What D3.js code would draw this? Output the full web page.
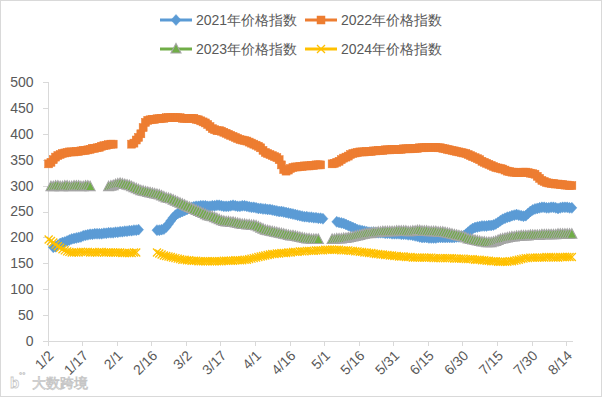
<!DOCTYPE html>
<html><head><meta charset="utf-8">
<script src="https://cdn.jsdelivr.net/npm/d3@7/dist/d3.min.js"></script>
<style>
html,body{margin:0;padding:0;background:#fff;}
svg{display:block;}
text{font-family:"Liberation Sans",Arial,sans-serif;}
</style></head>
<body>
<svg id="chart" width="602" height="397"></svg>
<script>
// Tick labels (x axis shows every 15th day, starting 1/2, leap-year calendar)
const tickLabels = ["1/2","1/17","2/1","2/16","3/2","3/17","4/1","4/16","5/1","5/16","5/31","6/15","6/30","7/15","7/30","8/14"];
const yTicks = [0,50,100,150,200,250,300,350,400,450,500];
const seriesNames = ["2021年价格指数","2022年价格指数","2023年价格指数","2024年价格指数"];
const N = null;
// daily values, index 0 = 1/2 ... index 227 = 8/16 ; null = no data (holidays)
const v2021 = [
N,N,181,182,185,188,190,191,193,195,
197,198,199,200,201,203,204,205,206,206,
207,207,207,207,208,208,209,209,209,210,
210,211,211,212,212,213,213,214,214,215,
N,N,N,N,N,N,N,214,214,215,
216,220,226,232,238,243,246,248,250,252,
254,256,258,259,260,260,261,261,261,260,
260,261,261,262,262,261,260,260,260,261,
262,261,260,260,261,261,260,259,258,258,
257,256,256,255,255,254,254,253,252,251,
250,250,249,248,247,246,245,244,243,242,
241,240,240,239,239,238,238,237,237,236,
N,N,N,N,N,230,229,228,227,225,
223,221,219,217,215,214,213,212,211,210,
210,210,209,209,209,209,208,208,208,207,
207,207,207,206,206,206,205,205,204,203,
202,201,200,200,200,199,199,199,199,200,
200,200,200,200,200,200,200,201,201,202,
203,206,210,214,217,219,220,221,222,222,
222,223,223,224,226,229,232,235,237,239,
240,242,243,244,243,242,241,242,246,250,
253,255,256,257,258,258,257,257,258,258,
257,256,257,258,258,258,257,257];
const v2022 = [
342,345,350,355,358,360,362,363,364,365,
365,365,366,366,367,368,368,369,370,372,
372,373,374,376,377,378,379,380,380,N,
N,N,N,N,N,N,380,382,388,393,
400,412,422,426,427,428,428,429,429,430,
430,431,431,431,431,431,431,431,430,430,
430,430,430,430,428,427,425,423,421,418,
414,410,408,406,406,405,403,401,399,397,
395,393,391,389,388,387,386,384,382,380,
378,376,373,368,364,362,360,358,356,354,
350,340,331,328,330,333,335,336,336,337,
337,338,338,338,339,339,340,340,340,N,
N,N,N,342,343,345,347,350,353,355,
357,360,362,363,364,365,365,365,366,366,
366,367,367,368,368,368,369,369,369,370,
370,370,370,370,371,371,371,371,372,372,
372,373,373,373,374,374,374,374,374,373,
373,372,371,370,369,368,367,366,365,364,
363,362,360,358,356,354,352,350,347,345,
343,341,339,337,335,334,333,332,330,328,
327,326,326,325,325,325,326,326,325,324,
323,322,318,314,310,308,306,305,304,304,
303,303,302,302,301,301,300,300];
const v2023 = [
N,298,298,299,299,298,298,299,299,298,
298,299,299,299,298,298,299,299,298,N,
N,N,N,N,N,N,298,299,300,302,
303,304,303,302,301,300,298,296,294,292,
290,289,288,287,286,285,284,283,282,280,
278,276,275,274,272,270,268,266,264,262,
260,258,256,254,252,250,248,246,244,242,
241,240,238,236,234,232,231,230,230,229,
229,228,227,226,225,225,224,224,223,223,
222,220,218,216,214,213,212,211,210,209,
208,207,206,205,204,203,203,202,201,200,
199,198,197,197,196,196,196,196,N,N,
N,N,N,196,196,197,197,197,198,198,
199,200,201,202,203,204,205,206,207,207,
208,209,209,210,210,211,211,211,211,211,
211,212,212,212,212,212,211,211,212,212,
213,213,212,212,212,211,211,211,211,210,
210,210,209,208,207,206,205,204,203,202,
201,199,197,196,195,194,193,192,191,191,
190,190,190,191,192,194,196,197,198,199,
200,201,201,202,202,203,203,203,203,204,
204,204,204,204,205,205,205,205,205,205,
205,206,206,206,206,206,206,206];
const v2024 = [
196,193,190,186,183,180,177,175,173,172,
171,171,171,171,172,172,172,172,171,171,
171,171,172,172,171,171,171,171,171,171,
171,171,170,170,170,170,170,171,171,N,
N,N,N,N,N,N,N,171,169,167,
165,164,163,162,161,160,159,158,157,157,
156,156,155,155,155,154,154,154,154,154,
154,154,154,154,154,154,155,155,155,155,
155,156,156,156,156,157,157,158,159,160,
161,162,163,164,165,166,167,168,168,169,
169,170,170,170,171,171,172,172,172,173,
173,173,174,174,174,174,175,175,175,175,
176,176,176,176,176,176,176,175,175,175,
175,174,174,173,173,172,172,171,171,170,
170,169,168,168,167,167,166,166,165,165,
164,164,163,163,163,162,162,162,161,161,
161,161,161,161,161,161,161,160,160,160,
160,160,160,160,160,160,159,159,159,159,
159,158,158,158,158,157,157,157,156,156,
155,155,154,154,154,153,153,153,153,153,
154,154,155,156,157,158,159,160,160,161,
161,161,161,161,161,161,162,162,162,161,
161,161,162,162,162,162,162,162];

const colors = ["#5B9BD5","#ED7D31","#70AD47","#FFC000"];
const allSeries = [v2021, v2022, v2023, v2024];
const nDays = 228;

const svg = d3.select("#chart");
svg.append("rect").attr("x",0.5).attr("y",0.5).attr("width",601).attr("height",396)
  .attr("fill","#fff").attr("stroke","#D9D9D9");

const x = d3.scaleLinear().domain([0, nDays]).range([47.5, 573]);
const y = d3.scaleLinear().domain([0, 500]).range([341, 82]);

// axes
const gx = svg.append("g").attr("transform","translate(0,341)")
  .call(d3.axisBottom(x).tickValues(tickLabels.map((d,i)=>i*15)).tickSize(5)
        .tickFormat((d,i)=>tickLabels[i]));
gx.select(".domain").attr("stroke","#D9D9D9").attr("d","M47.5,0.5H573");
gx.selectAll(".tick line").attr("stroke","#D9D9D9");
gx.selectAll(".tick text").attr("fill","#595959").attr("font-size",14)
  .attr("text-anchor","end").attr("dy","0.35em").attr("y",0)
  .attr("transform","translate(3,12) rotate(-45)");

const gy = svg.append("g").attr("transform","translate(47.5,0)")
  .call(d3.axisLeft(y).tickValues(yTicks).tickSize(5).tickPadding(9));
gy.select(".domain").attr("stroke","#D9D9D9").attr("d","M0.5,82V341.5");
gy.selectAll(".tick line").attr("stroke","#D9D9D9");
gy.selectAll(".tick text").attr("fill","#595959").attr("font-size",14);
svg.selectAll(".domain, .tick line").attr("shape-rendering","crispEdges");

// marker drawers
const markers = [
  g => g.append("path").attr("d","M0,-5.5L5,0L0,5.5L-5,0Z").attr("fill",colors[0]).attr("stroke",colors[0]).attr("stroke-width",0.5),
  g => g.append("rect").attr("x",-4).attr("y",-4).attr("width",8).attr("height",8).attr("fill",colors[1]).attr("stroke",colors[1]).attr("stroke-width",0.5),
  g => g.append("path").attr("d","M0,-5.5L5,4L-5,4Z").attr("fill",colors[2]).attr("stroke","#A5A5A5").attr("stroke-width",1.1),
  g => g.append("path").attr("d","M-4,-4L4,4M-4,4L4,-4").attr("fill","none").attr("stroke",colors[3]).attr("stroke-width",1.3)
];

const line = d3.line().defined(d=>d.v!==null).x(d=>x(d.i+0.5)).y(d=>y(d.v));

allSeries.forEach((vals, si) => {
  const data = vals.map((v,i)=>({i, v}));
  const g = svg.append("g");
  g.append("path").datum(data).attr("d", line).attr("fill","none")
    .attr("stroke", si===2 ? "#A5A5A5" : colors[si]).attr("stroke-width",2.25);
  data.filter(d=>d.v!==null).forEach(d => {
    const m = g.append("g").attr("transform",`translate(${x(d.i+0.5)},${y(d.v)})`);
    markers[si](m);
  });
});

// legend
const legendPos = [[160,20],[305,20],[160,49],[305,49]];
seriesNames.forEach((name, i) => {
  const [lx, ly] = legendPos[i];
  const g = svg.append("g").attr("transform",`translate(${lx},${ly})`);
  g.append("line").attr("x1",0).attr("x2",32).attr("y1",0).attr("y2",0)
    .attr("stroke",colors[i]).attr("stroke-width",3);
  markers[i](g.append("g").attr("transform","translate(16,0)"));
  g.append("text").attr("x",36).attr("y",0).attr("dy","0.35em")
    .attr("fill","#595959").attr("font-size",14).text(name);
});

// watermark
const wm = svg.append("g").attr("opacity",0.55);
wm.append("text").attr("x",10).attr("y",388).attr("font-size",15).attr("font-weight","bold")
  .attr("fill","#fff").attr("stroke","#999").attr("stroke-width",0.8).text("b");
wm.append("text").attr("x",19).attr("y",378).attr("font-size",8)
  .attr("fill","#fff").attr("stroke","#999").attr("stroke-width",0.6).text("°°");
wm.append("text").attr("x",32).attr("y",388).attr("font-size",14)
  .attr("font-family","Noto Sans CJK SC").attr("fill","#fff").attr("stroke","#999").attr("stroke-width",0.8).text("大数跨境");
</script>
</body></html>
